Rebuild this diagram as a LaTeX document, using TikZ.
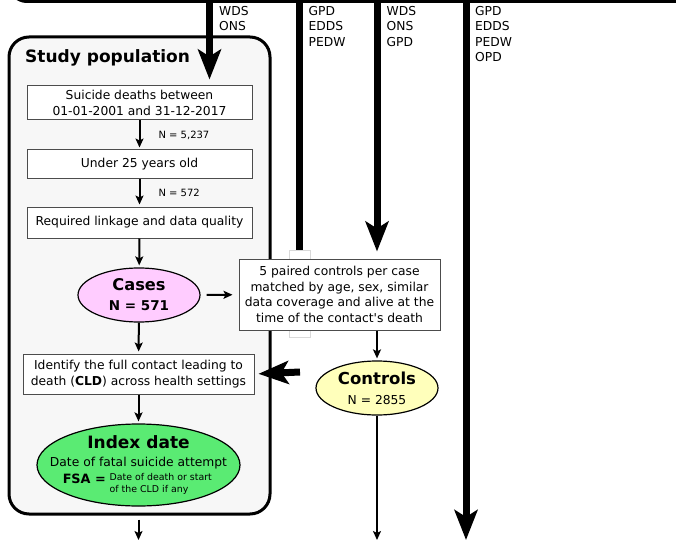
\documentclass[tikz,border=0pt]{standalone}
\usepackage{fontspec}
\setmainfont{DejaVu Sans}
\usetikzlibrary{arrows.meta,shapes.geometric}
\definecolor{panel}{RGB}{247,247,247}
\definecolor{pinkfill}{RGB}{255,204,255}
\definecolor{yellowfill}{RGB}{255,255,187}
\definecolor{greenfill}{RGB}{90,235,115}
\newcommand{\normtxt}{\fontsize{12.3}{15.4}\selectfont}
\newcommand{\smalltxt}{\fontsize{9.4}{12}\selectfont}
\newcommand{\ntxt}{\fontsize{10}{12}\selectfont}
\tikzset{
  stepbox/.style={draw=black!70, line width=1pt, fill=white, inner sep=0pt, align=center, font=\normtxt},
  thinarrow/.style={line width=2pt, -{Stealth[length=9pt, width=8pt, inset=2pt]}},
  thickarrow/.style={line width=7pt, -{Stealth[length=30pt, width=23pt, inset=7pt]}},
  thickline/.style={line width=7pt},
  oval/.style={ellipse, draw=black, line width=1.2pt, inner sep=0pt},
  srclabel/.style={anchor=north west, align=left, inner sep=0pt, font=\normtxt},
  plain/.style={inner sep=0pt, font=\normtxt},
  nlabel/.style={right=18pt, inner sep=0pt, font=\ntxt},
}
\begin{document}
\begin{tikzpicture}[x=1pt,y=-1pt]
\useasboundingbox (0,0) rectangle (676,540);
\clip (0,0) rectangle (676,540);

% top container (cut off)
\draw[line width=3pt, fill=panel, rounded corners=18pt] (9,-60) rectangle (740,1.5);

% study population container
\node[draw=black, line width=3pt, fill=panel, rounded corners=20pt, minimum width=261pt, minimum height=477pt, inner sep=0pt] (study) at (139.5,275.5) {};
\node[anchor=west, inner sep=0pt, font=\bfseries\fontsize{17}{19}\selectfont] (title) at (25,58) {Study population};

% source labels
\node[srclabel] (lab1) at (219,6) {WDS\\ONS};
\node[srclabel] (lab2) at (308.5,6) {GPD\\EDDS\\PEDW};
\node[srclabel] (lab3) at (386.5,6) {WDS\\ONS\\GPD};
\node[srclabel] (lab4) at (475,6) {GPD\\EDDS\\PEDW\\OPD};

\coordinate (t1) at (209.5,3);
\coordinate (t2) at (299.5,3);
\coordinate (t3) at (377,3);
\coordinate (t4) at (466,3);
\coordinate (b4) at (466,540);
\coordinate (b3) at (377,540);
\coordinate (b1) at (138.5,540);
\coordinate (c5) at (300,372);

% study steps
\node[stepbox, minimum width=225pt, minimum height=34pt] (s1) at (139.5,103) {Suicide deaths between\\01-01-2001 and 31-12-2017};
\node[stepbox, minimum width=225pt, minimum height=28pt] (s2) at (139.5,164) {Under 25 years old};
\node[stepbox, minimum width=225pt, minimum height=31pt] (s3) at (139.5,222.5) {Required linkage and data quality};
\node[oval, fill=pinkfill, minimum width=122pt, minimum height=54pt] (cases) at (139,295) {};
\node[plain, font=\bfseries\fontsize{16.2}{18}\selectfont] (casesT) at (139,285) {Cases};
\node[plain, font=\bfseries\fontsize{13.5}{15}\selectfont] (casesN) at (139,306) {N = 571};
\node[stepbox, minimum width=231pt, minimum height=40pt] (ident) at (138.5,374) {Identify the full contact leading to\\death (\textbf{CLD}) across health settings};
\node[oval, fill=greenfill, minimum width=203pt, minimum height=82pt] (idx) at (138.5,465) {};
\node[plain, font=\bfseries\fontsize{17}{19}\selectfont] (idxT) at (138.5,442) {Index date};
\node[plain] (idxL1) at (138.5,463) {Date of fatal suicide attempt};
\node[plain, anchor=east, font=\bfseries\fontsize{12.8}{15}\selectfont] (idxF) at (106,479) {FSA =};
\node[inner sep=0pt, anchor=north west, align=left, font=\smalltxt] (idxS) at (109.5,473) {Date of death or start\\of the CLD if any};

% white strip behind pair box
\node[draw=black!15, line width=0.8pt, fill=white, minimum width=21pt, minimum height=87pt, inner sep=0pt] (wr) at (299.5,293.5) {};

% controls
\node[stepbox, minimum width=201pt, minimum height=71pt] (pair) at (339.5,294.5) {5 paired controls per case\\matched by age, sex, similar\\data coverage and alive at the\\time of the contact\textquotesingle s death};
\node[oval, fill=yellowfill, minimum width=122pt, minimum height=54pt] (ctrl) at (377,388) {};
\node[plain, font=\bfseries\fontsize{16.5}{18}\selectfont] (ctrlT) at (377,378) {Controls};
\node[plain] (ctrlN) at (377,400) {N = 2855};

% thick source arrows
\draw[thickarrow, shorten >=6pt] (t1) -- (t1 |- s1.north);
\draw[thickline] (t2) -- (wr.north);
\draw[thickarrow, shorten >=7pt] (t3) -- (t3 |- pair.north);
\draw[thickarrow] (t4) -- (b4);
\draw[thickarrow, shorten >=4pt] (c5) -- (ident.east);

% thin flow arrows
\draw[thinarrow, shorten >=2pt] (s1) -- node[nlabel] (n1) {N = 5,237} (s2);
\draw[thinarrow, shorten >=2pt] (s2) -- node[nlabel] (n2) {N = 572} (s3);
\draw[thinarrow, shorten >=2pt] (s3) -- (cases);
\draw[thinarrow, shorten >=2pt] (cases) -- (ident);
\draw[thinarrow, shorten >=2pt] (ident) -- (idx);
\draw[thinarrow, shorten <=6pt, shorten >=6pt] (cases) -- (pair);
\draw[thinarrow, shorten >=2pt] (pair.south -| ctrl) -- (ctrl);
\draw[thinarrow, shorten <=4pt] (idx |- study.south) -- (b1);
\draw[thinarrow] (ctrl.south) -- (b3);
\end{tikzpicture}
\end{document}
